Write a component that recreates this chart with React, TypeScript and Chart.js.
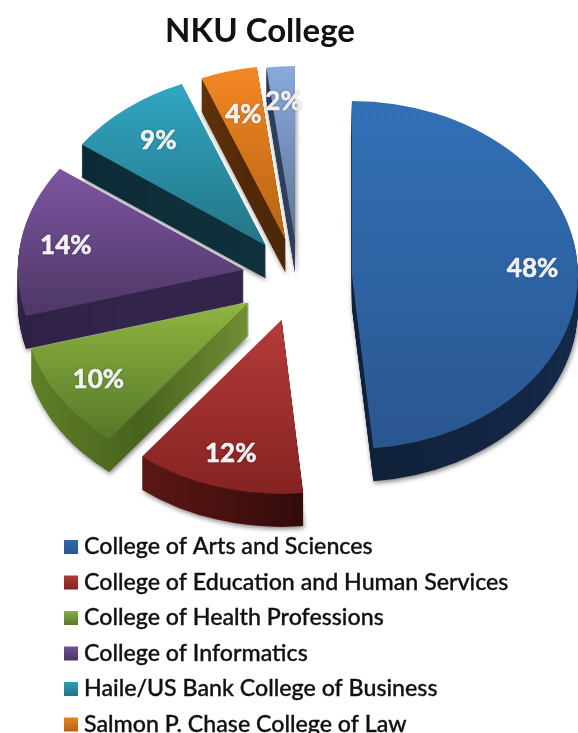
import React, { useEffect, useRef } from "react";
import { Chart, registerables } from "chart.js";

Chart.register(...registerables);

const categories = [
  "College of Arts and Sciences",
  "College of Education and Human Services",
  "College of Health Professions",
  "College of Informatics",
  "Haile/US Bank College of Business",
  "Salmon P. Chase College of Law",
  "Other",
];
const percentages = [48, 12, 10, 14, 9, 4, 2];

// Styling and explosion, separate from the data
const sliceOffsets = [216, 232, 236, 220, 208, 200, 192];
const labelFractions = [0.8, 0.8, 0.8, 0.8, 0.77, 0.74, 0.8];
const faceTop = ["#3270b6", "#b53b38", "#8fb640", "#7d55a2", "#31a6c2", "#f58724", "#8aa9de"];
const faceBottom = ["#2a5690", "#842322", "#55772a", "#4d3765", "#237585", "#b56412", "#5c7590"];
const wallLeft = ["#0f2138", "#5c1715", "#5f7f28", "#2f2145", "#0c2a35", "#5f330a", "#2c3d5c"];
const wallMid = ["#12243f", "#48110f", "#48631e", "#33244a", "#0f2f3a", "#52290a", "#2e3f5e"];
const wallRight = ["#14294a", "#320b0b", "#708f35", "#33244a", "#0f303c", "#4a2808", "#2e3f5e"];
const swatch = ["#2f68ab", "#b03a37", "#8ab03e", "#71509a", "#2f9cb5", "#ea8222"];

const CENTER_X = 298;
const CENTER_Y = 277;
const RADIUS = 226;
const SQUASH = 0.77;
const DEPTH = 33;
const DRAW_ORDER = [6, 5, 4, 3, 2, 1, 0];

const FONT = "Lato, Carlito, 'Open Sans', sans-serif";

function sliceBounds(arc: any) {
  const r = arc.outerRadius;
  const angles = [arc.startAngle, arc.endAngle];
  for (let k = -2; k <= 6; k++) {
    const a = (k * Math.PI) / 2;
    if (a > arc.startAngle && a < arc.endAngle) angles.push(a);
  }
  let x0 = arc.x, x1 = arc.x, y0 = arc.y, y1 = arc.y;
  for (const a of angles) {
    const x = arc.x + r * Math.cos(a);
    const y = arc.y + r * Math.sin(a);
    x0 = Math.min(x0, x); x1 = Math.max(x1, x);
    y0 = Math.min(y0, y); y1 = Math.max(y1, y);
  }
  return { x0, x1, y0, y1 };
}

function paintArc(ctx: CanvasRenderingContext2D, arc: any, fill: any) {
  const ghost = Object.create(arc);
  ghost.options = { ...arc.options, backgroundColor: fill, borderWidth: 0 };
  // a quarter-turn value keeps the element from widening exploded slices
  ghost.circumference = Math.PI / 2;
  arc.draw.call(ghost, ctx);
}

const pie3d = {
  id: "pie3d",
  beforeDatasetsDraw(chart: any) {
    const ctx: CanvasRenderingContext2D = chart.ctx;
    const arcs = chart.getDatasetMeta(0).data;
    for (const i of DRAW_ORDER) {
      const arc = arcs[i];
      const b = sliceBounds(arc);
      const wall = ctx.createLinearGradient(b.x0, 0, b.x1, 0);
      wall.addColorStop(0, wallLeft[i]);
      wall.addColorStop(0.5, wallMid[i]);
      wall.addColorStop(1, wallRight[i]);
      const face = ctx.createLinearGradient(0, b.y0, 0, b.y1);
      face.addColorStop(0, faceTop[i]);
      face.addColorStop(1, faceBottom[i]);
      for (let d = DEPTH; d >= 0; d--) {
        ctx.save();
        if (d === DEPTH) {
          ctx.shadowColor = "rgba(0,0,0,0.5)";
          ctx.shadowBlur = 5;
          ctx.shadowOffsetX = 1;
          ctx.shadowOffsetY = 2;
        }
        ctx.translate(CENTER_X, CENTER_Y + d);
        ctx.scale(1, SQUASH);
        ctx.translate(-arc.x, -arc.y);
        paintArc(ctx, arc, d === 0 ? face : wall);
        ctx.restore();
      }
    }
    // percentage labels
    ctx.save();
    ctx.font = `bold 26px ${FONT}`;
    ctx.textAlign = "center";
    ctx.textBaseline = "middle";
    ctx.fillStyle = "#ffffff";
    ctx.strokeStyle = "#ffffff";
    ctx.lineWidth = 0.6;
    ctx.shadowColor = "rgba(0,0,0,0.35)";
    ctx.shadowBlur = 2;
    arcs.forEach((arc: any, i: number) => {
      const half = (arc.startAngle + arc.endAngle) / 2;
      const dist = (arc.options.offset || 0) / 4 + arc.outerRadius * labelFractions[i];
      const x = CENTER_X + Math.cos(half) * dist;
      const y = CENTER_Y + Math.sin(half) * dist * SQUASH;
      ctx.fillText(`${percentages[i]}%`, x, y);
      ctx.strokeText(`${percentages[i]}%`, x, y);
    });
    ctx.restore();
    return false;
  },
  afterDraw(chart: any) {
    const ctx: CanvasRenderingContext2D = chart.ctx;
    const labels: string[] = chart.data.labels;
    ctx.save();
    ctx.font = `500 23.2px ${FONT}`;
    ctx.textBaseline = "alphabetic";
    ctx.textAlign = "left";
    ctx.lineWidth = 0.35;
    ctx.strokeStyle = "#111111";
    labels.forEach((text, i) => {
      const top = 540 + i * 35.5;
      if (top > chart.height) return;
      const g = ctx.createLinearGradient(0, top, 0, top + 14);
      g.addColorStop(0, swatch[i]);
      g.addColorStop(1, faceBottom[i]);
      ctx.fillStyle = g;
      ctx.fillRect(64, top, 14, 14);
      ctx.fillStyle = "#111111";
      ctx.fillText(text, 84, top + 14);
      ctx.strokeText(text, 84, top + 14);
    });
    ctx.restore();
  },
};

export default function App() {
  const ref = useRef<HTMLCanvasElement>(null);
  useEffect(() => {
    document.body.style.margin = "0";
    const chart = new Chart(ref.current as HTMLCanvasElement, {
      type: "pie",
      data: {
        labels: categories,
        datasets: [
          {
            data: percentages,
            backgroundColor: faceTop,
            borderWidth: 0,
            offset: sliceOffsets,
            radius: RADIUS,
          } as any,
        ],
      },
      options: {
        responsive: false,
        animation: false,
        layout: { padding: { left: 0, right: 58, top: 0, bottom: 0 } },
        plugins: {
          legend: { display: false },
          tooltip: { enabled: false },
          title: {
            display: true,
            text: "NKU College",
            color: "#111111",
            font: { family: FONT, size: 33, weight: "bold" },
            padding: { top: 12, bottom: 4 },
          },
        },
      },
      plugins: [pie3d as any],
    });
    return () => chart.destroy();
  }, []);
  return (
    <div style={{ position: "fixed", left: 0, top: 0, width: 578, height: 733, overflow: "hidden", background: "#fff" }}>
      <canvas ref={ref} width={578} height={733} style={{ display: "block" }} />
    </div>
  );
}
